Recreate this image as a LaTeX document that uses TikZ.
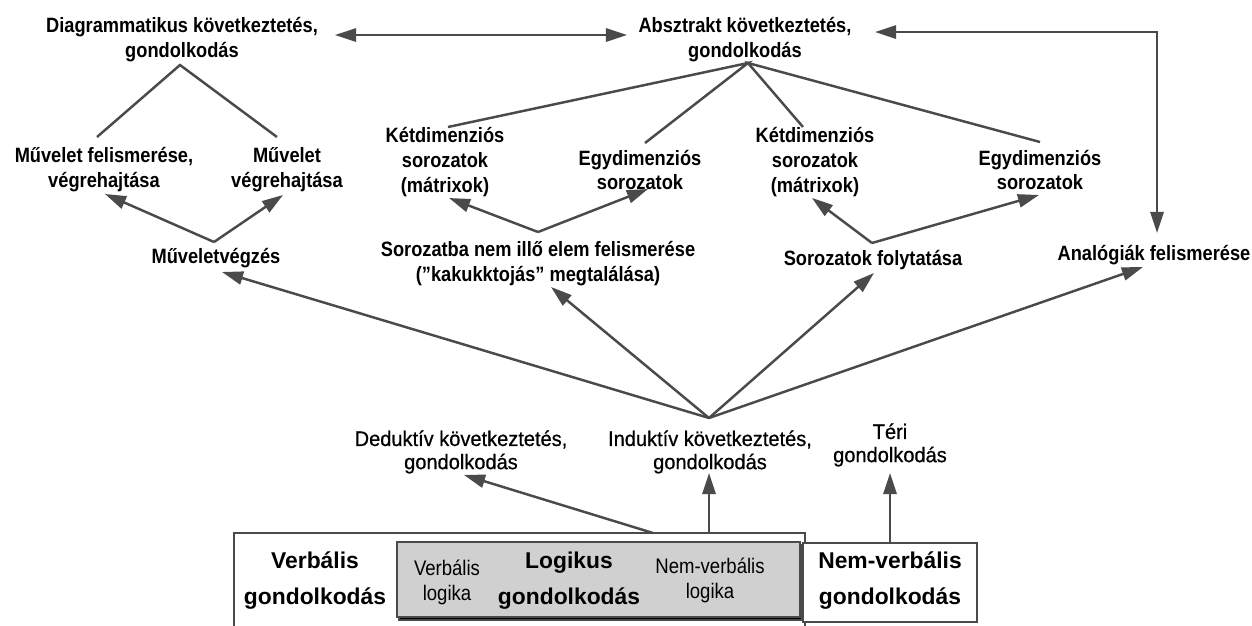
\documentclass[tikz,border=0pt]{standalone}
\usepackage{fontspec}
\setmainfont{Liberation Sans}
\newfontfamily\lbl{Liberation Sans}[FakeStretch=0.88]
\newfontfamily\lblr{Liberation Sans}[FakeStretch=0.95,FakeBold=0.6]
\usetikzlibrary{arrows.meta}
\definecolor{ln}{HTML}{4A4A4A}
\definecolor{boxgray}{HTML}{D0D0D0}
\tikzset{
  lab/.style={align=center,inner sep=0pt,font=\lbl\bfseries\fontsize{11.8}{14.2}\selectfont},
  labr/.style={align=center,inner sep=0pt,font=\lblr\fontsize{12}{13.2}\selectfont},
  big/.style={align=center,inner sep=0pt,font=\bfseries\fontsize{13}{20.5}\selectfont},
  small/.style={align=center,inner sep=0pt,font=\lbl\fontsize{12}{14.2}\selectfont},
  ln/.style={draw=ln,line width=1.4pt},
  arr/.style={ln,-{Triangle[length=12pt,width=7.5pt]}},
  darr/.style={ln,{Triangle[length=12pt,width=7.5pt]}-{Triangle[length=12pt,width=7.5pt]}},
  frame/.style={draw=ln,line width=1.1pt}
}
\begin{document}
\begin{tikzpicture}[x=0.02cm,y=-0.02cm]
\useasboundingbox[fill=white] (0,0) rectangle (1252,626);
% boxes
\draw[frame] (234,628) -- (234,533) -- (805,533) -- (805,628);
\fill[ln] (399,545) rectangle (802,620);
\filldraw[frame,fill=boxgray] (397,542) rectangle (800,617);
\filldraw[frame,fill=white] (803,543) rectangle (977,622);
% texts
\node[lab] (diag) at (182,40) {Diagrammatikus következtetés,\\gondolkodás};
\node[lab] (abs) at (745,40) {Absztrakt következtetés,\\gondolkodás};
\node[lab] (muf) at (104,170) {Művelet felismerése,\\végrehajtása};
\node[lab] (mut) at (287,170) {Művelet\\végrehajtása};
\node[lab] (ket1) at (445,162) {Kétdimenziós\\sorozatok\\(mátrixok)};
\node[lab] (egy1) at (640,170) {Egydimenziós\\sorozatok};
\node[lab] (ket2) at (815,162) {Kétdimenziós\\sorozatok\\(mátrixok)};
\node[lab] (egy2) at (1040,170) {Egydimenziós\\sorozatok};
\node[lab] (muv) at (216,258) {Műveletvégzés};
\node[lab] (sor) at (538,264) {Sorozatba nem illő elem felismerése\\(”kakukktojás” megtalálása)};
\node[lab] (fol) at (873,260) {Sorozatok folytatása};
\node[lab] (ana) at (1154,255) {Analógiák felismerése};
\node[labr] (ded) at (461,452) {Deduktív következtetés,\\gondolkodás};
\node[labr] (ind) at (710,452) {Induktív következtetés,\\gondolkodás};
\node[labr] (ter) at (890,445) {Téri\\gondolkodás};
\node[big] (verb) at (315,581) {Verbális\\gondolkodás};
\node[small] (vlog) at (447,582) {Verbális\\logika};
\node[big] (log) at (569,581) {Logikus\\gondolkodás};
\node[small] (nvlog) at (710,580) {Nem-verbális\\logika};
\node[big] (nverb) at (890,581) {Nem-verbális\\gondolkodás};
% coordinates
\coordinate (dL) at (335,35);
\coordinate (dR) at (627,35);
\coordinate (absR) at (875,32);
\coordinate (corner) at (1157,32);
\coordinate (anaT) at (1157,233);
\coordinate (diagB) at (180,65);
\coordinate (mufT) at (97,137);
\coordinate (mutT) at (277,137);
\coordinate (muvA) at (214,242);
\coordinate (mufB) at (105,194);
\coordinate (mutB) at (283,195);
\coordinate (absB) at (748,63);
\coordinate (ket1T) at (448,127);
\coordinate (egy1T) at (645,143);
\coordinate (ket2T) at (803,127);
\coordinate (egy2T) at (1040,142);
\coordinate (sorA) at (538,232);
\coordinate (ket1B) at (449,198);
\coordinate (egy1B) at (648,189);
\coordinate (folA) at (872,243);
\coordinate (ket2B) at (812,198);
\coordinate (egy2B) at (1039,195);
\coordinate (indA) at (709,418);
\coordinate (muvB) at (222,272);
\coordinate (sorB) at (551,287);
\coordinate (folB) at (874,273);
\coordinate (anaB) at (1143,267);
\coordinate (dedB) at (464,475);
\coordinate (indB) at (709,473);
\coordinate (terB) at (890,473);
\coordinate (outA) at (653,533);
\coordinate (outB) at (709,533);
\coordinate (nvT) at (890,543);
% connectors
\draw[darr] (dL) -- (dR);
\draw[darr] (absR) -- (corner) -- (anaT);
\draw[ln] (mufT) -- (diagB) -- (mutT);
\draw[arr] (muvA) -- (mufB);
\draw[arr] (muvA) -- (mutB);
\draw[ln] (ket1T) -- (absB) -- (egy1T);
\draw[ln] (ket2T) -- (absB) -- (egy2T);
\draw[arr] (sorA) -- (ket1B);
\draw[arr] (sorA) -- (egy1B);
\draw[arr] (folA) -- (ket2B);
\draw[arr] (folA) -- (egy2B);
\draw[arr] (indA) -- (muvB);
\draw[arr] (indA) -- (sorB);
\draw[arr] (indA) -- (folB);
\draw[arr] (indA) -- (anaB);
\draw[arr] (outA) -- (dedB);
\draw[arr] (outB) -- (indB);
\draw[arr] (nvT) -- (terB);
\end{tikzpicture}
\end{document}
